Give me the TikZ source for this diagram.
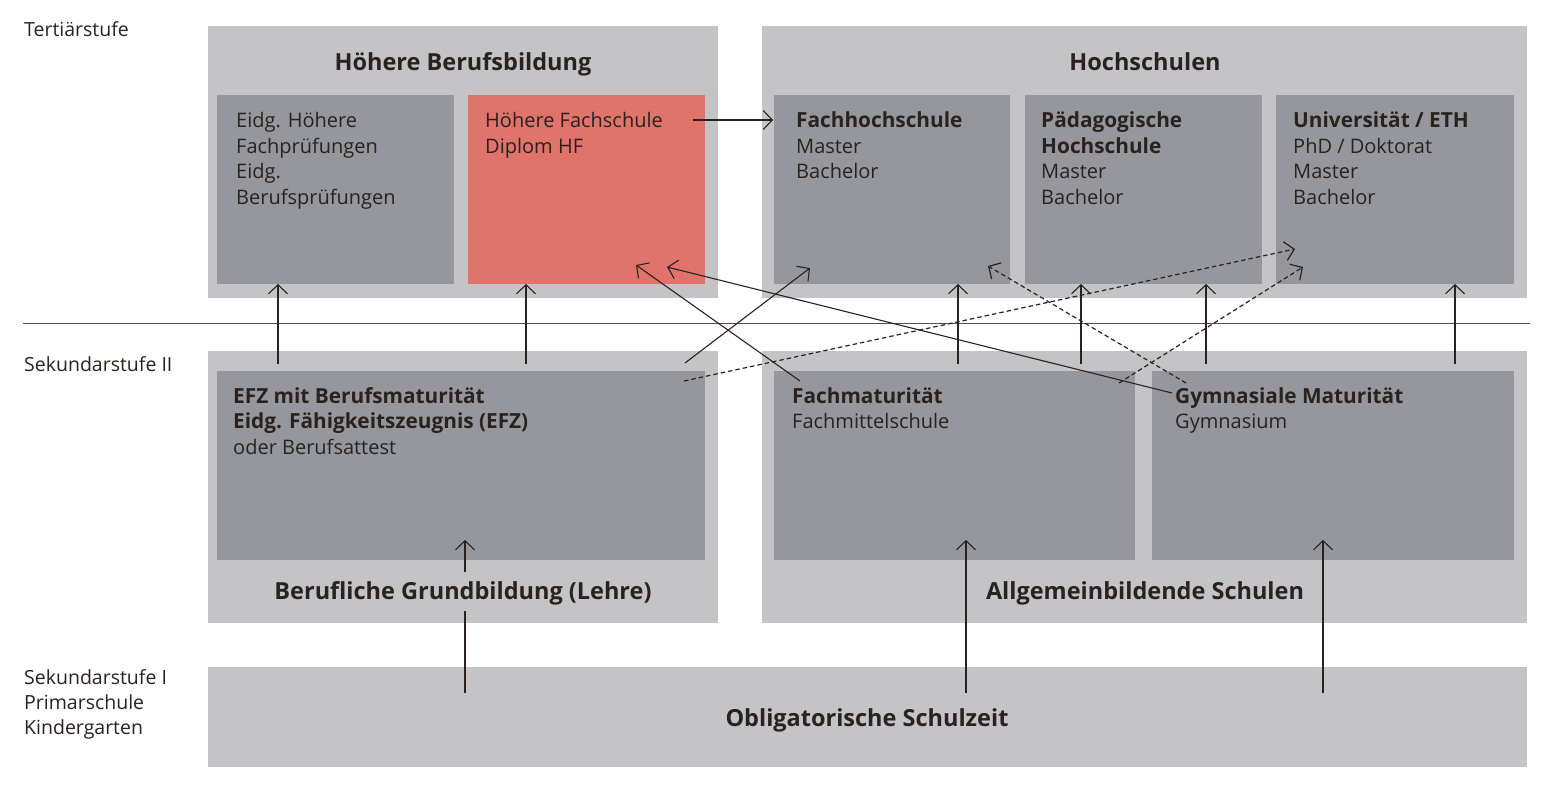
\documentclass[tikz,border=0pt]{standalone}
\usepackage{fontspec}
\setmainfont{Open Sans}
\usetikzlibrary{arrows.meta}
\definecolor{lightbox}{HTML}{C4C4C6}
\definecolor{darkbox}{HTML}{95979C}
\definecolor{hfred}{HTML}{E0736A}
\definecolor{ink}{HTML}{2A221E}
\newcommand\boldline[1]{{\fontsize{20.8}{25.5}\selectfont\bfseries #1}}
\begin{document}
\begin{tikzpicture}[x=1pt,y=-1pt,
  outerbox/.style={fill=lightbox,draw=none,rectangle,inner sep=0pt,anchor=north west},
  innerbox/.style={fill=darkbox,draw=none,rectangle,inner sep=0pt,anchor=north west},
  redbox/.style={fill=hfred,draw=none,rectangle,inner sep=0pt,anchor=north west},
  bodytext/.style={text=ink,inner sep=0pt,anchor=base west,align=left,font=\fontsize{20}{25.5}\selectfont},
  sidetext/.style={text=ink,inner sep=0pt,anchor=base west,align=left,font=\fontsize{19.5}{25}\selectfont},
  titletext/.style={text=ink,inner sep=0pt,anchor=base,font=\fontsize{23.5}{28}\selectfont\bfseries},
  arr/.style={draw=ink,line width=1.1pt,-{Straight Barb[length=9pt,width=19pt]}},
  plainline/.style={draw=ink,line width=1.1pt},
  dasharr/.style={arr,line width=1.2pt,dash pattern=on 4.5pt off 3pt},
]
\useasboundingbox (0,0) rectangle (1547,795);
% outer boxes
\node[outerbox,minimum width=510pt,minimum height=272pt] (hbb) at (208,26) {};
\node[outerbox,minimum width=765pt,minimum height=272pt] (hs) at (762,26) {};
\node[outerbox,minimum width=510pt,minimum height=272pt] (bg) at (208,351) {};
\node[outerbox,minimum width=765pt,minimum height=272pt] (as) at (762,351) {};
\node[outerbox,minimum width=1319pt,minimum height=100pt] (os) at (208,667) {};
% inner boxes
\node[innerbox,minimum width=237pt,minimum height=189pt] (eidg) at (217,95) {};
\node[redbox,minimum width=237pt,minimum height=189pt] (hf) at (468,95) {};
\node[innerbox,minimum width=236pt,minimum height=189pt] (fh) at (774,95) {};
\node[innerbox,minimum width=237pt,minimum height=189pt] (ph) at (1025,95) {};
\node[innerbox,minimum width=238pt,minimum height=189pt] (uni) at (1276,95) {};
\node[innerbox,minimum width=488pt,minimum height=189pt] (efz) at (217,371) {};
\node[innerbox,minimum width=361pt,minimum height=189pt] (fm) at (774,371) {};
\node[innerbox,minimum width=362pt,minimum height=189pt] (gm) at (1152,371) {};
% separator
\coordinate (sepL) at (23,323);
\coordinate (sepR) at (1530,323);
\draw[draw=ink!80,line width=0.8pt] (sepL) -- (sepR);
% side labels (anchor = baseline of last line)
\node[sidetext] (t1) at (24,36) {Tertiärstufe};
\node[sidetext] (t2) at (24,371) {Sekundarstufe II};
\node[sidetext] (t3) at (24,734) {Sekundarstufe I\\Primarschule\\Kindergarten};
% titles
\node[titletext] (thbb) at (463,70) {Höhere Berufsbildung};
\node[titletext] (ths) at (1145,70) {Hochschulen};
\node[titletext] (tbg) at (463,599) {Berufliche Grundbildung (Lehre)};
\node[titletext] (tas) at (1145,599) {Allgemeinbildende Schulen};
\node[titletext] (tos) at (867,726) {Obligatorische Schulzeit};
% inner texts (anchor = baseline of last line)
\node[bodytext] (xeidg) at (236,204) {Eidg. Höhere\\Fachprüfungen\\Eidg.\\Berufsprüfungen};
\node[bodytext] (xhf) at (485,153) {Höhere Fachschule\\Diplom HF};
\node[bodytext] (xfh) at (796,178.5) {\boldline{Fachhochschule}\\Master\\Bachelor};
\node[bodytext] (xph) at (1041,204) {\boldline{Pädagogische}\\\boldline{Hochschule}\\Master\\Bachelor};
\node[bodytext] (xuni) at (1293,204) {\boldline{Universität / ETH}\\PhD / Doktorat\\Master\\Bachelor};
\node[bodytext] (xefz) at (233,454) {\boldline{EFZ mit Berufsmaturität}\\\boldline{Eidg. Fähigkeitszeugnis (EFZ)}\\oder Berufsattest};
\node[bodytext] (xfm) at (792,428.5) {\boldline{Fachmaturität}\\Fachmittelschule};
\node[bodytext] (xgm) at (1175,428.5) {\boldline{Gymnasiale Maturität}\\Gymnasium};
% connector end points
\coordinate (a1s) at (278,364); \coordinate (a1e) at (278,284);
\coordinate (a2s) at (526,364); \coordinate (a2e) at (526,284);
\coordinate (a3s) at (958,364); \coordinate (a3e) at (958,284);
\coordinate (a4s) at (1081,364); \coordinate (a4e) at (1081,284);
\coordinate (a5s) at (1206,364); \coordinate (a5e) at (1206,284);
\coordinate (a6s) at (1455,364); \coordinate (a6e) at (1455,284);
\coordinate (b1s) at (465,693); \coordinate (b1m) at (465,611);
\coordinate (b1n) at (465,572); \coordinate (b1e) at (465,540);
\coordinate (b2s) at (966,693); \coordinate (b2e) at (966,540);
\coordinate (b3s) at (1323,693); \coordinate (b3e) at (1323,540);
\coordinate (hs1) at (693,120); \coordinate (he1) at (773,120);
\coordinate (d1s) at (685,363); \coordinate (d1e) at (810,268);
\coordinate (d2s) at (684,381); \coordinate (d2e) at (1295,249);
\coordinate (d3s) at (800,381); \coordinate (d3e) at (636,265);
\coordinate (d4s) at (1172,393); \coordinate (d4e) at (667,267);
\coordinate (d5s) at (1186,383); \coordinate (d5e) at (988,266);
\coordinate (d6s) at (1119,383); \coordinate (d6e) at (1303,267);
% connectors
\draw[arr] (a1s) -- (a1e);
\draw[arr] (a2s) -- (a2e);
\draw[arr] (a3s) -- (a3e);
\draw[arr] (a4s) -- (a4e);
\draw[arr] (a5s) -- (a5e);
\draw[arr] (a6s) -- (a6e);
\draw[plainline] (b1s) -- (b1m);
\draw[arr] (b1n) -- (b1e);
\draw[arr] (b2s) -- (b2e);
\draw[arr] (b3s) -- (b3e);
\draw[arr] (hs1) -- (he1);
\draw[arr] (d1s) -- (d1e);
\draw[dasharr] (d2s) -- (d2e);
\draw[arr] (d3s) -- (d3e);
\draw[arr] (d4s) -- (d4e);
\draw[dasharr] (d5s) -- (d5e);
\draw[dasharr] (d6s) -- (d6e);
\end{tikzpicture}
\end{document}
